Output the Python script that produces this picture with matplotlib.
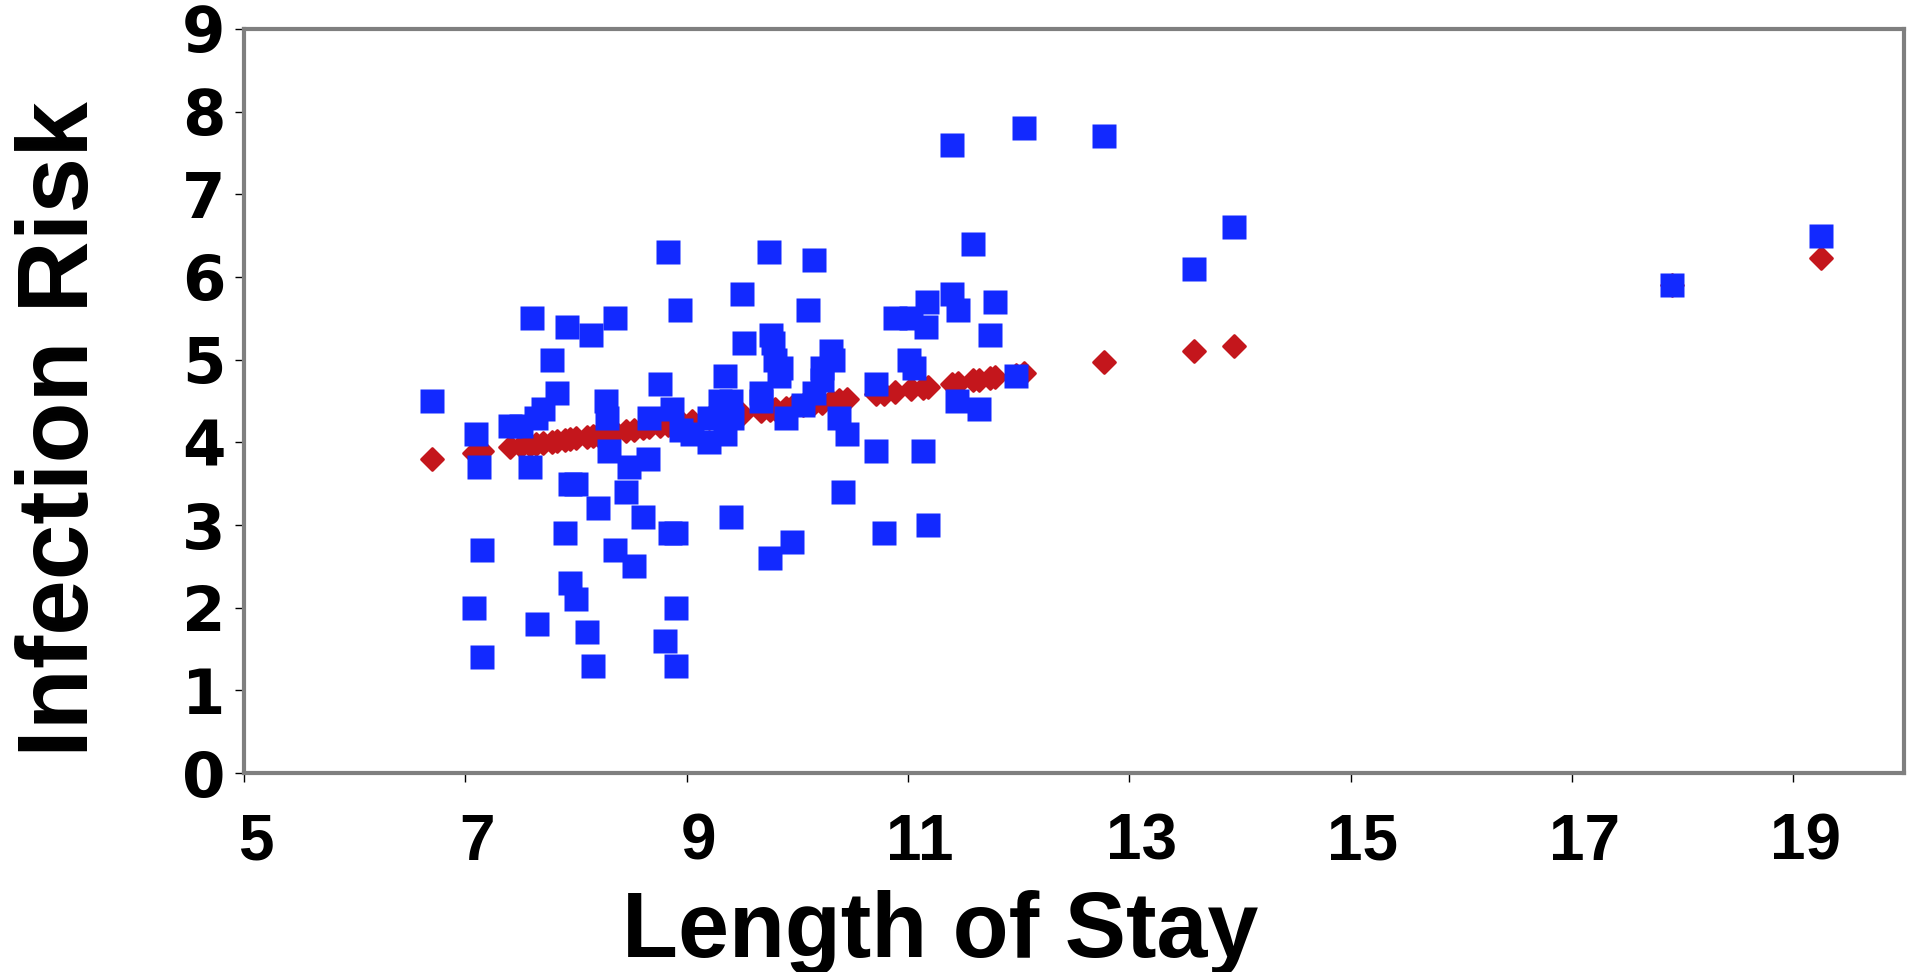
import numpy as np
import matplotlib
matplotlib.use('Agg')
from matplotlib import pyplot as plt
from matplotlib.markers import MarkerStyle
import matplotlib.transforms as mtransforms

# observed values (blue squares)
stay = [6.7, 7.08, 7.1, 7.12, 7.15, 7.15, 7.4, 7.5, 7.58, 7.6, 7.64, 7.65, 7.7, 7.78,
        7.83, 7.9, 7.92, 7.95, 7.95, 8.0, 8.0, 8.1, 8.14, 8.15, 8.2, 8.27, 8.28, 8.3,
        8.35, 8.35, 8.45, 8.48, 8.52, 8.61, 8.65, 8.66, 8.76, 8.8, 8.83, 8.85, 8.87,
        8.9, 8.9, 8.9, 8.94, 8.95, 9.05, 9.2, 9.2, 9.3, 9.35, 9.35, 9.4, 9.41, 9.4, 9.5,
        9.52, 9.67, 9.67, 9.74, 9.76, 9.75, 9.78, 9.8, 9.85, 9.83, 9.9, 9.95, 10.05,
        10.1, 10.15, 10.15, 10.22, 10.22, 10.3, 10.32, 10.38, 10.41, 10.45, 10.71,
        10.71, 10.78, 10.88, 11.01, 11.03, 11.05, 11.14, 11.16, 11.17, 11.18, 11.4,
        11.4, 11.45, 11.44, 11.59, 11.64, 11.74, 11.79, 11.98, 12.05, 12.77, 13.58,
        13.95, 17.9, 19.25]
risk = [4.5, 2.0, 4.1, 3.7, 2.7, 1.4, 4.2, 4.2, 3.7, 5.5, 4.3, 1.8, 4.4, 5.0,
        4.6, 2.9, 5.4, 2.3, 3.5, 3.5, 2.1, 1.7, 5.3, 1.3, 3.2, 4.5, 4.3, 3.9,
        5.5, 2.7, 3.4, 3.7, 2.5, 3.1, 3.8, 4.3, 4.7, 1.6, 6.3, 2.9, 4.4,
        2.9, 2.0, 1.3, 5.6, 4.15, 4.1, 4.3, 4.0, 4.5, 4.8, 4.1, 4.5, 4.3, 3.1, 5.8,
        5.2, 4.6, 4.5, 6.3, 5.3, 2.6, 5.2, 5.0, 4.9, 4.8, 4.3, 2.8, 4.45,
        5.6, 6.2, 4.6, 4.9, 4.75, 5.1, 5.0, 4.3, 3.4, 4.1, 4.7,
        3.9, 2.9, 5.5, 5.0, 5.5, 4.9, 3.9, 5.4, 5.7, 3.0, 5.8,
        7.6, 5.6, 4.5, 6.4, 4.4, 5.3, 5.7, 4.8, 7.8, 7.7, 6.1,
        6.6, 5.9, 6.5]

# fitted values (red diamonds)
fit_x = [6.7, 7.08, 7.1, 7.15, 7.4, 7.5, 7.58, 7.64, 7.7, 7.78, 7.83, 7.9, 7.95,
         8.0, 8.1, 8.15, 8.2, 8.27, 8.3, 8.35, 8.45, 8.52, 8.61, 8.66, 8.76, 8.83,
         8.9, 8.95, 9.05, 9.2, 9.3, 9.4, 9.5, 9.67, 9.75, 9.8, 9.9, 9.95, 10.05,
         10.15, 10.22, 10.3, 10.38, 10.45, 10.71, 10.78, 10.88, 11.03, 11.14,
         11.18, 11.4, 11.45, 11.59, 11.64, 11.74, 11.79, 11.98, 12.05, 12.77,
         13.58, 13.95, 17.9, 19.25]
fit_y = [3.80, 3.87, 3.88, 3.89, 3.94, 3.96, 3.97, 3.98, 3.99, 4.01, 4.02, 4.03, 4.04,
         4.05, 4.07, 4.08, 4.09, 4.10, 4.11, 4.12, 4.14, 4.15, 4.17, 4.18, 4.20, 4.21,
         4.23, 4.24, 4.26, 4.29, 4.30, 4.32, 4.34, 4.38, 4.39, 4.40, 4.42, 4.43, 4.45,
         4.47, 4.48, 4.50, 4.51, 4.53, 4.58, 4.59, 4.61, 4.64, 4.66,
         4.67, 4.71, 4.72, 4.75, 4.76, 4.78, 4.79, 4.82, 4.84, 4.97,
         5.11, 5.17, 5.90, 6.23]

xticks = [5, 7, 9, 11, 13, 15, 17, 19]
yticks = list(range(10))

fig = plt.figure(figsize=(19.09, 9.72), dpi=100)
ax = fig.add_axes([0.1278, 0.2047, 0.8696, 0.7655])

diamond = MarkerStyle('D', joinstyle='round')
ax.plot(fit_x, fit_y, linestyle='none', marker=diamond, ms=11, color='#C4161C',
        mec='#C4161C', mew=2, zorder=2)
ax.plot(stay, risk, linestyle='none', marker='s', ms=17, color='#1229FF',
        mec='none', zorder=3)

ax.set_xlim(5, 20)
ax.set_ylim(0, 9)
ax.set_xticks(xticks)
ax.set_yticks(yticks)

for side in ['left', 'right', 'top', 'bottom']:
    ax.spines[side].set_color('#7f7f7f')
    ax.spines[side].set_linewidth(3)

ax.tick_params(axis='both', direction='out', length=6.5, width=1, color='black')
ax.tick_params(axis='x', pad=22)
ax.tick_params(axis='y', pad=7)
ax.set_xticklabels([str(t) for t in xticks], fontsize=46, fontweight='bold',
                   family='Liberation Sans')
ax.set_yticklabels([str(t) for t in yticks], fontsize=45, fontweight='bold',
                   family='DejaVu Sans')

# x tick labels sit a little right of their ticks in the original
shift = mtransforms.ScaledTranslation(12 / 100, 0, fig.dpi_scale_trans)
for lab in ax.get_xticklabels():
    lab.set_transform(lab.get_transform() + shift)

fig.text(0.4924, 0.0155, 'Length of Stay', fontsize=66, fontweight='bold',
         family='Liberation Sans', ha='center', va='baseline')
fig.text(0.0323, 0.5586, 'Infection Risk', fontsize=72, fontweight='bold',
         family='Liberation Sans', ha='center', va='center', rotation=90)

fig.savefig('out.png', dpi=100, facecolor='white')
